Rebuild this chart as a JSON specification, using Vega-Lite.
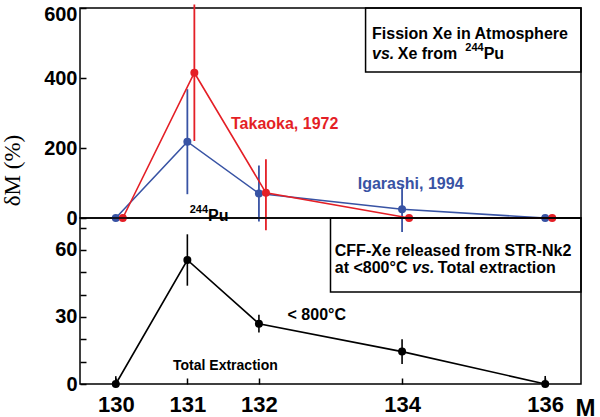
{
  "$schema": "https://vega.github.io/schema/vega-lite/v6.json",
  "padding": {"left": 0, "top": 2, "right": 0, "bottom": 0},
  "spacing": 0,
  "bounds": "flush",
  "background": "white",
  "config": {
    "view": {"stroke": "black", "strokeWidth": 1.5},
    "font": "Liberation Sans",
    "axis": {"domain": false, "grid": false, "tickColor": "black", "tickWidth": 1.5, "labelColor": "black", "labelFont": "Liberation Sans", "labelFontWeight": "bold", "titleColor": "black", "labelOverlap": false},
    "axisY": {"tickCount": 8},
    "text": {"font": "Liberation Sans", "fontWeight": "bold", "fill": "black"}
  },
  "datasets": {
    "igarashi": [
      {"M": 130, "delta": 0, "lo": 0, "hi": 0},
      {"M": 131, "delta": 218, "lo": 68, "hi": 368},
      {"M": 132, "delta": 70, "lo": -10, "hi": 150},
      {"M": 134, "delta": 25, "lo": -40, "hi": 90},
      {"M": 136, "delta": 0, "lo": 0, "hi": 0}
    ],
    "takaoka": [
      {"M": 130, "delta": 0, "lo": 0, "hi": 0},
      {"M": 131, "delta": 415, "lo": 220, "hi": 610},
      {"M": 132, "delta": 72, "lo": -35, "hi": 168},
      {"M": 134, "delta": 0, "lo": 0, "hi": 0},
      {"M": 136, "delta": 0, "lo": 0, "hi": 0}
    ],
    "cff": [
      {"M": 130, "delta": 0, "lo": 0, "hi": 3.5},
      {"M": 131, "delta": 55.5, "lo": 44, "hi": 67},
      {"M": 132, "delta": 27, "lo": 23, "hi": 31},
      {"M": 134, "delta": 14.5, "lo": 9, "hi": 20},
      {"M": 136, "delta": 0, "lo": 0, "hi": 3.6}
    ]
  },
  "vconcat": [
    {
      "width": 501,
      "height": 210,
      "layer": [
        {
          "data": {"name": "igarashi"},
          "mark": {"type": "rule", "stroke": "#3853a4", "strokeWidth": 1.8},
          "encoding": {
            "x": {"field": "M", "type": "quantitative", "scale": {"domain": [129.5, 136.5], "nice": false, "zero": false}, "axis": null},
            "y": {"field": "lo", "type": "quantitative", "scale": {"domain": [0, 600], "nice": false},
              "axis": {"values": [0, 100, 200, 300, 400, 500, 600], "tickCount": 6, "labelOverlap": false, "tickSize": -6, "labelPadding": 9, "labelFontSize": 20, "minExtent": 77, "maxExtent": 77,
                "labelOpacity": {"condition": {"test": "datum.value % 200 === 0", "value": 1}, "value": 0},
                "labelBaseline": {"condition": {"test": "datum.value === 600", "value": "top"}, "value": "middle"},
                "labelOffset": {"condition": {"test": "datum.value === 600", "value": -4}, "value": 0},
                "title": "δM (%)", "titleFont": "Liberation Serif", "titleFontWeight": "normal", "titleFontSize": 23, "titleAngle": -90, "titleX": -68, "titleY": 162, "titleAlign": "center", "titleBaseline": "middle"}},
            "y2": {"field": "hi"}
          }
        },
        {
          "data": {"values": [{"x1": 133.49, "x2": 136.5, "y1": 417, "y2": 600}]},
          "mark": {"type": "rect", "filled": false, "stroke": "black", "strokeWidth": 1.5},
          "encoding": {
            "x": {"field": "x1", "type": "quantitative", "axis": null},
            "x2": {"field": "x2"},
            "y": {"field": "y1", "type": "quantitative"},
            "y2": {"field": "y2"}
          }
        },
        {
          "data": {"name": "igarashi"},
          "mark": {"type": "line", "stroke": "#3853a4", "strokeWidth": 1.6},
          "encoding": {"x": {"field": "M", "type": "quantitative", "axis": null}, "y": {"field": "delta", "type": "quantitative"}}
        },
        {
          "data": {"name": "igarashi"},
          "mark": {"type": "point", "filled": true, "fill": "#3853a4", "opacity": 1, "size": 64, "shape": "circle"},
          "encoding": {"x": {"field": "M", "type": "quantitative", "axis": null}, "y": {"field": "delta", "type": "quantitative"}}
        },
        {
          "data": {"name": "takaoka"},
          "mark": {"type": "rule", "stroke": "#e41f26", "strokeWidth": 1.8, "xOffset": 7},
          "encoding": {"x": {"field": "M", "type": "quantitative", "axis": null}, "y": {"field": "lo", "type": "quantitative"}, "y2": {"field": "hi"}}
        },
        {
          "data": {"name": "takaoka"},
          "mark": {"type": "line", "stroke": "#e41f26", "strokeWidth": 1.6, "xOffset": 7},
          "encoding": {"x": {"field": "M", "type": "quantitative", "axis": null}, "y": {"field": "delta", "type": "quantitative"}}
        },
        {
          "data": {"name": "takaoka"},
          "mark": {"type": "point", "filled": true, "fill": "#e41f26", "opacity": 1, "size": 64, "shape": "circle", "xOffset": 7},
          "encoding": {"x": {"field": "M", "type": "quantitative", "axis": null}, "y": {"field": "delta", "type": "quantitative"}}
        },
        {
          "data": {"values": [{"x": 131.61, "y": 269, "t": "Takaoka, 1972"}]},
          "mark": {"type": "text", "align": "left", "baseline": "middle", "fontSize": 16, "fill": "#e41f26"},
          "encoding": {"x": {"field": "x", "type": "quantitative", "axis": null}, "y": {"field": "y", "type": "quantitative"}, "text": {"field": "t"}}
        },
        {
          "data": {"values": [{"x": 133.38, "y": 97, "t": "Igarashi, 1994"}]},
          "mark": {"type": "text", "align": "left", "baseline": "middle", "fontSize": 16, "fill": "#3853a4"},
          "encoding": {"x": {"field": "x", "type": "quantitative", "axis": null}, "y": {"field": "y", "type": "quantitative"}, "text": {"field": "t"}}
        },
        {
          "data": {"values": [{"x": 131.29, "y": 6, "t": "Pu"}, {"x": 133.58, "y": 526, "t": "Fission Xe in Atmosphere"}, {"x": 133.94, "y": 469, "t": "Xe from"}, {"x": 135.14, "y": 469, "t": "Pu"}]},
          "mark": {"type": "text", "align": "left", "baseline": "middle", "fontSize": 16},
          "encoding": {"x": {"field": "x", "type": "quantitative", "axis": null}, "y": {"field": "y", "type": "quantitative"}, "text": {"field": "t"}}
        },
        {
          "data": {"values": [{"x": 133.58, "y": 469, "t": "vs."}]},
          "mark": {"type": "text", "align": "left", "baseline": "middle", "fontSize": 16, "fontStyle": "italic"},
          "encoding": {"x": {"field": "x", "type": "quantitative", "axis": null}, "y": {"field": "y", "type": "quantitative"}, "text": {"field": "t"}}
        },
        {
          "data": {"values": [{"x": 131.29, "y": 24, "t": "244"}, {"x": 135.14, "y": 487, "t": "244"}]},
          "mark": {"type": "text", "align": "right", "baseline": "middle", "fontSize": 11},
          "encoding": {"x": {"field": "x", "type": "quantitative", "axis": null}, "y": {"field": "y", "type": "quantitative"}, "text": {"field": "t"}}
        }
      ]
    },
    {
      "width": 501,
      "height": 166,
      "layer": [
        {
          "data": {"name": "cff"},
          "mark": {"type": "rule", "stroke": "black", "strokeWidth": 1.6},
          "encoding": {
            "x": {"field": "M", "type": "quantitative", "scale": {"domain": [129.5, 136.5], "nice": false, "zero": false},
              "axis": {"values": [130, 131, 132, 134, 136], "format": "d", "tickSize": -6, "labelPadding": 16, "labelFontSize": 22,
                "title": "M", "titleFontSize": 24, "titleFontWeight": "bold", "titleX": 505, "titleY": 12, "titleAlign": "center", "titleBaseline": "top"}},
            "y": {"field": "lo", "type": "quantitative", "scale": {"domain": [0, 74.3], "nice": false},
              "axis": {"values": [0, 10, 20, 30, 40, 50, 60, 70], "tickCount": 8, "labelOverlap": false, "labelFontSize": 20,
                "labelOpacity": {"condition": {"test": "datum.value % 30 === 0", "value": 1}, "value": 0},
                "tickSize": -6, "labelPadding": 9, "minExtent": 77, "maxExtent": 77, "title": null}},
            "y2": {"field": "hi"}
          }
        },
        {
          "data": {"values": [{"x1": 133.0, "x2": 136.5, "y1": 41.2, "y2": 74.3}]},
          "mark": {"type": "rect", "filled": false, "stroke": "black", "strokeWidth": 1.5},
          "encoding": {
            "x": {"field": "x1", "type": "quantitative"},
            "x2": {"field": "x2"},
            "y": {"field": "y1", "type": "quantitative"},
            "y2": {"field": "y2"}
          }
        },
        {
          "data": {"name": "cff"},
          "mark": {"type": "line", "stroke": "black", "strokeWidth": 1.6},
          "encoding": {"x": {"field": "M", "type": "quantitative"}, "y": {"field": "delta", "type": "quantitative"}}
        },
        {
          "data": {"name": "cff"},
          "mark": {"type": "point", "filled": true, "fill": "black", "opacity": 1, "size": 64, "shape": "circle"},
          "encoding": {"x": {"field": "M", "type": "quantitative"}, "y": {"field": "delta", "type": "quantitative"}}
        },
        {
          "data": {"values": [{"x": 132.4, "y": 30.9, "t": "< 800°C"}, {"x": 133.06, "y": 59.5, "t": "CFF-Xe released from STR-Nk2"}, {"x": 133.06, "y": 51.9, "t": "at <800°C"}, {"x": 134.5, "y": 51.9, "t": "Total extraction"}]},
          "mark": {"type": "text", "align": "left", "baseline": "middle", "fontSize": 16},
          "encoding": {"x": {"field": "x", "type": "quantitative"}, "y": {"field": "y", "type": "quantitative"}, "text": {"field": "t"}}
        },
        {
          "data": {"values": [{"x": 134.14, "y": 51.9, "t": "vs."}]},
          "mark": {"type": "text", "align": "left", "baseline": "middle", "fontSize": 16, "fontStyle": "italic"},
          "encoding": {"x": {"field": "x", "type": "quantitative"}, "y": {"field": "y", "type": "quantitative"}, "text": {"field": "t"}}
        },
        {
          "data": {"values": [{"x": 130.8, "y": 8.1, "t": "Total Extraction"}]},
          "mark": {"type": "text", "align": "left", "baseline": "middle", "fontSize": 14},
          "encoding": {"x": {"field": "x", "type": "quantitative"}, "y": {"field": "y", "type": "quantitative"}, "text": {"field": "t"}}
        }
      ]
    }
  ]
}
